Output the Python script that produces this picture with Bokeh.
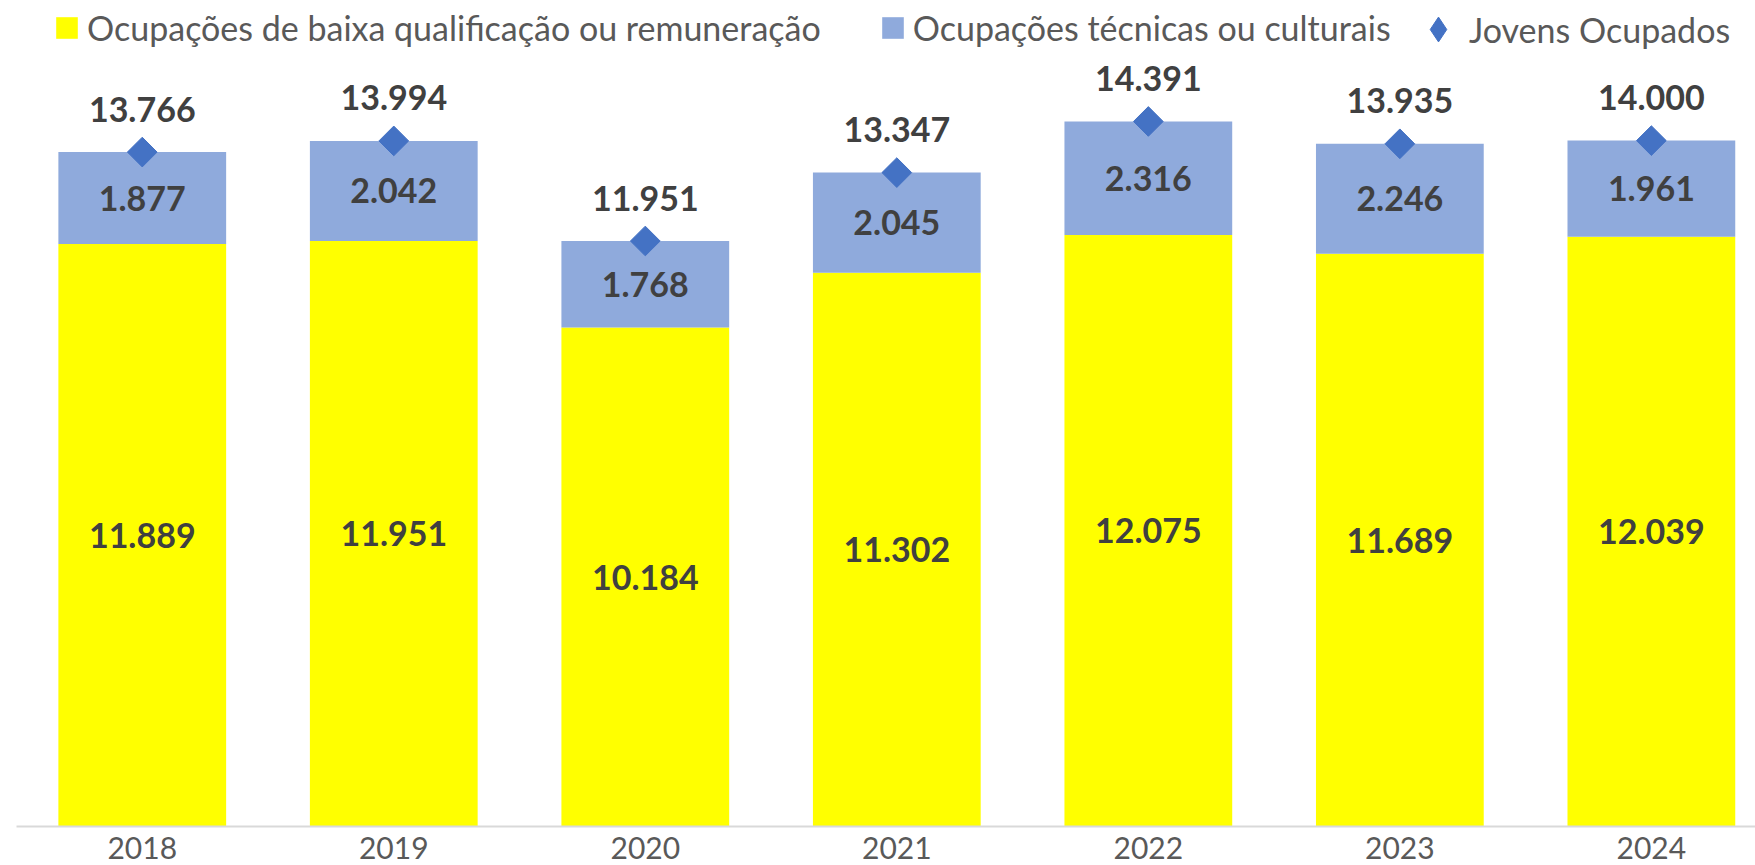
import numpy as np
from bokeh.plotting import figure
from bokeh.models import (ColumnDataSource, Range1d, FixedTicker, Legend, LegendItem)
from bokeh.core.properties import value
from bokeh.embed import file_html
from bokeh.resources import INLINE

# ---- data ----
years = ["2018", "2019", "2020", "2021", "2022", "2023", "2024"]
baixa = [11889, 11951, 10184, 11302, 12075, 11689, 12039]
tecnicas = [1877, 2042, 1768, 2045, 2316, 2246, 1961]
jovens = [13766, 13994, 11951, 13347, 14391, 13935, 14000]

label_baixa = "Ocupações de baixa qualificação ou remuneração"
label_tec = "Ocupações técnicas ou culturais"
label_jov = "Jovens Ocupados"


def fmt(v):
    return f"{v:,}".replace(",", ".")


x = list(range(len(years)))
b = np.array(baixa)
t = np.array(tecnicas)
src = ColumnDataSource(dict(
    x=x,
    baixa=b,
    tec_top=b + t,
    jovens=jovens,
    baixa_mid=b / 2.0,
    tec_mid=b + t / 2.0,
    baixa_lbl=[fmt(v) for v in baixa],
    tec_lbl=[fmt(v) for v in tecnicas],
    jov_lbl=[fmt(v) for v in jovens],
))

FONT = "Lato"
W, H = 1755, 865

p = figure(width=W, height=H, output_backend="svg", toolbar_location=None,
           x_range=Range1d(-0.5, 6.414), y_range=Range1d(0, 16860),
           min_border_left=16, min_border_right=0, min_border_top=0,
           min_border_bottom=39, outline_line_color=None)
p.xgrid.visible = False
p.ygrid.visible = False
p.yaxis.visible = False

r_b = p.vbar(x="x", bottom=0, top="baixa", width=0.667, source=src,
             fill_color="#FFFF00", line_color=None)
r_t = p.vbar(x="x", bottom="baixa", top="tec_top", width=0.667, source=src,
             fill_color="#8FAADC", line_color=None)
r_j = p.scatter(x="x", y="jovens", source=src, marker="square", size=21,
                angle=np.pi / 4, fill_color="#4472C4", line_color="#4472C4")
# legend-only twin of the diamond series (legend glyphs ignore marker angle)
r_j_leg = p.scatter(x="x", y="jovens", source=src, marker="diamond",
                    fill_color="#4472C4", line_color="#4472C4", visible=False)

lbl_kw = dict(source=src, text_font=value(FONT), text_font_style="bold",
              text_font_size="34px", text_color="#404040",
              text_align="center", text_baseline="middle")
p.text(x="x", y="baixa_mid", text="baixa_lbl", **lbl_kw)
p.text(x="x", y="tec_mid", text="tec_lbl", **lbl_kw)
p.text(x="x", y="jovens", text="jov_lbl", y_offset=-43, **lbl_kw)

ax = p.xaxis[0]
ax.ticker = FixedTicker(ticks=x)
ax.major_label_overrides = {i: y for i, y in enumerate(years)}
ax.major_label_text_font = FONT
ax.major_label_text_font_size = "30px"
ax.major_label_text_color = "#595959"
ax.major_label_standoff = 4
ax.major_tick_line_color = None
ax.minor_tick_line_color = None
ax.axis_line_color = "#D9D9D9"
ax.axis_line_width = 2

leg_kw = dict(orientation="horizontal", background_fill_alpha=0,
              border_line_alpha=0, padding=0, margin=0,
              label_text_font=FONT, label_text_font_size="34px",
              label_text_color="#595959")

legend_bars = Legend(items=[
    LegendItem(label=label_baixa, renderers=[r_b]),
    LegendItem(label=label_tec, renderers=[r_t]),
], location=(37, 778), spacing=58, glyph_width=27, glyph_height=27,
    label_standoff=7, **leg_kw)
p.add_layout(legend_bars)

legend_pts = Legend(items=[
    LegendItem(label=label_jov, renderers=[r_j_leg]),
], location=(1391, 766), glyph_width=62, glyph_height=62,
    label_standoff=-11, **leg_kw)
p.add_layout(legend_pts)

open("out.html", "w").write(file_html(p, INLINE))
